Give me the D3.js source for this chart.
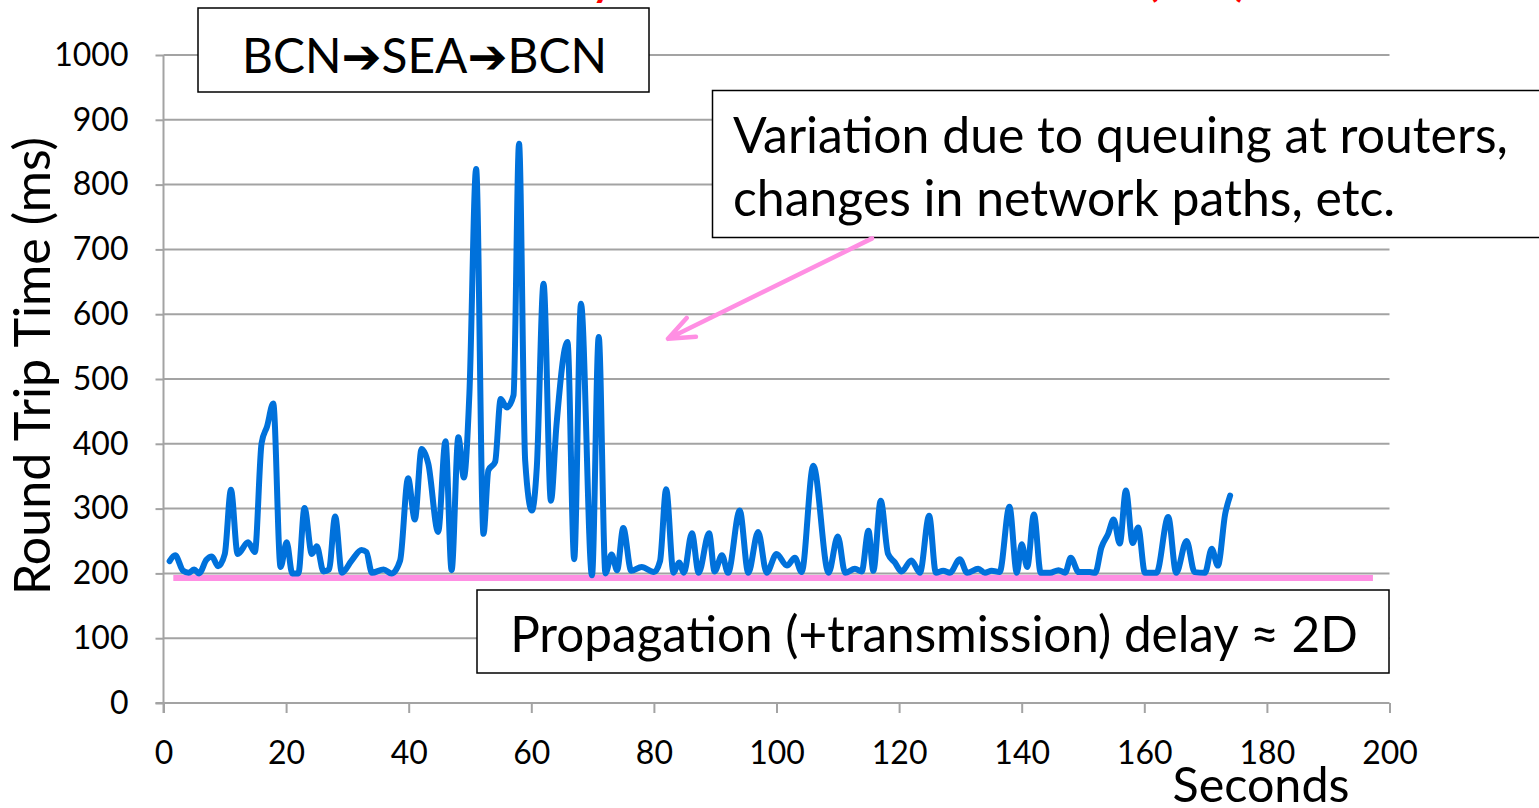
<!DOCTYPE html>
<html>
<head>
<meta charset="utf-8">
<script src="https://cdn.jsdelivr.net/npm/d3@7"></script>
<style>
  html, body { margin: 0; padding: 0; background: #fff; }
  svg { display: block; font-family: Lato, "Open Sans", "DejaVu Sans", sans-serif; }
</style>
</head>
<body>
<svg id="chart" width="1539" height="808"></svg>
<script>
// Ping samples: time (s) and round trip time (ms)
const seconds = [
  1.0, 1.9, 3.2, 4.1, 5.0, 5.8, 7.0, 7.9, 8.9, 10.0,
  11.0, 12.1, 13.8, 14.9, 16.0, 16.9, 17.9, 19.1, 20.1, 21.0,
  22.0, 23.0, 24.2, 25.0, 26.1, 27.0, 28.0, 29.1, 30.7, 32.3,
  33.1, 34.0, 35.9, 37.2, 38.6, 39.9, 41.0, 42.1, 43.2, 44.8,
  46.0, 47.0, 48.1, 49.0, 49.9, 51.0, 52.2, 53.0, 54.1, 55.0,
  56.0, 57.1, 58.0, 59.0, 60.1, 60.9, 62.0, 63.2, 64.1, 65.9,
  67.0, 68.1, 69.9, 71.0, 72.1, 73.1, 74.0, 75.0, 76.3, 78.0,
  80.0, 81.0, 82.0, 83.2, 84.1, 84.9, 86.2, 87.3, 89.0, 89.9,
  91.1, 92.1, 94.0, 95.4, 97.0, 98.4, 100.0, 101.7, 103.0, 104.1,
  106.0, 108.5, 110.0, 111.2, 112.8, 113.9, 115.0, 115.8, 117.0, 118.2,
  119.3, 120.4, 122.0, 123.4, 124.9, 126.0, 127.2, 128.3, 129.9, 131.1,
  132.9, 134.0, 135.1, 136.4, 138.0, 139.2, 140.0, 140.9, 142.0, 143.1,
  144.6, 146.0, 147.1, 148.0, 149.3, 151.1, 152.0, 153.0, 154.1, 155.0,
  156.0, 157.0, 158.1, 159.0, 160.1, 162.0, 163.9, 165.2, 166.9, 168.2,
  169.9, 171.0, 172.0, 173.2, 174.0
];
const rttMs = [
  219, 228, 204, 201, 206, 200, 221, 226, 211, 230,
  329, 230, 248, 233, 401, 427, 462, 210, 248, 200,
  200, 301, 230, 242, 203, 206, 288, 201, 220, 236,
  233, 201, 206, 200, 220, 347, 283, 392, 369, 264,
  404, 205, 410, 348, 477, 824, 261, 359, 372, 469,
  456, 475, 863, 374, 297, 364, 647, 312, 428, 557,
  222, 616, 197, 565, 200, 229, 205, 270, 204, 210,
  202, 219, 330, 201, 217, 201, 262, 201, 262, 203,
  228, 201, 297, 201, 264, 201, 230, 212, 224, 202,
  366, 201, 257, 201, 207, 203, 266, 204, 312, 230,
  217, 203, 220, 201, 289, 201, 204, 201, 222, 201,
  207, 201, 204, 202, 303, 201, 245, 210, 291, 201,
  201, 205, 201, 224, 202, 202, 201, 240, 261, 283,
  246, 328, 247, 271, 201, 201, 287, 201, 250, 202,
  201, 238, 212, 292, 320
];

// Propagation delay floor (ms) and the span it is drawn over (s)
const propagationMs = 193;
const propagationSpan = [1.6, 197.3];

// Axis ticks
const xTicks = [0, 20, 40, 60, 80, 100, 120, 140, 160, 180, 200];
const yTicks = [0, 100, 200, 300, 400, 500, 600, 700, 800, 900, 1000];

// Annotation arrow: tail and tip in data units (s, ms)
const arrowTail = [115.6, 717];
const arrowTip = [82.3, 562];

const svg = d3.select("#chart");

const x = d3.scaleLinear().domain([0, 200]).range([163.5, 1389.5]);
const y = d3.scaleLinear().domain([0, 1000]).range([703, 55]);

const GRID = "#a3a3a3";
const BLUE = "#0071db";
const PINK = "#ff8fe3";

// Fit a text element to a target width by adjusting its font size
function fitWidth(sel, target) {
  sel.each(function () {
    const fs = parseFloat(this.getAttribute("font-size"));
    const len = this.getComputedTextLength();
    if (len > 0) this.setAttribute("font-size", (fs * target / len).toFixed(2));
  });
  return sel;
}

// Heading along the top edge (runs off the top of the canvas)
const heading = svg.append("g").attr("fill", "#ff0000").attr("font-weight", "bold").attr("font-size", 42);
heading.append("text").attr("x", 614).attr("y", -4).attr("text-anchor", "end").text("Delay");
heading.append("text").attr("x", 880).attr("y", -4).attr("text-anchor", "middle").text("Variation");
heading.append("text").attr("x", 1147).attr("y", -4).text("(RTT)");

// Horizontal gridlines
svg.append("g")
  .selectAll("line")
  .data(yTicks.filter(d => d > 0))
  .join("line")
  .attr("x1", x(0)).attr("x2", x(200))
  .attr("y1", d => y(d)).attr("y2", d => y(d))
  .attr("stroke", GRID).attr("stroke-width", 2);

// Y axis
const yAxis = svg.append("g")
  .attr("transform", `translate(${x(0)},0)`)
  .call(d3.axisLeft(y).tickValues(yTicks).tickFormat(d3.format("d"))
    .tickSize(8).tickSizeOuter(0).tickPadding(27));
yAxis.select(".domain").attr("stroke", GRID).attr("stroke-width", 2)
  .attr("d", `M0,${y(1000)}V${y(0) + 10}`);
yAxis.selectAll(".tick line").attr("stroke", GRID).attr("stroke-width", 2);
yAxis.selectAll(".tick text")
  .attr("font-family", "Lato, sans-serif").attr("font-size", 32).attr("fill", "#000");

// X axis
const xAxis = svg.append("g")
  .attr("transform", `translate(0,${y(0)})`)
  .call(d3.axisBottom(x).tickValues(xTicks).tickFormat(d3.format("d"))
    .tickSize(10).tickSizeOuter(0).tickPadding(28));
xAxis.select(".domain").attr("stroke", GRID).attr("stroke-width", 2)
  .attr("d", `M${x(0) - 8},0H${x(200)}`);
xAxis.selectAll(".tick line").attr("stroke", GRID).attr("stroke-width", 2);
xAxis.selectAll(".tick text")
  .attr("font-family", "Lato, sans-serif").attr("font-size", 32).attr("fill", "#000");

// Propagation delay floor
svg.append("line")
  .attr("x1", x(propagationSpan[0])).attr("x2", x(propagationSpan[1]))
  .attr("y1", y(propagationMs)).attr("y2", y(propagationMs))
  .attr("stroke", PINK).attr("stroke-width", 6);

// RTT series
const pts = seconds.map((s, i) => [s, rttMs[i]]);
svg.append("path")
  .datum(pts)
  .attr("fill", "none")
  .attr("stroke", BLUE)
  .attr("stroke-width", 6)
  .attr("stroke-linejoin", "round")
  .attr("stroke-linecap", "round")
  .attr("d", d3.line().x(d => x(d[0])).y(d => y(d[1])).curve(d3.curveMonotoneX));

// Axis titles
fitWidth(svg.append("text")
  .attr("transform", "translate(50,366) rotate(-90)")
  .attr("text-anchor", "middle")
  .attr("font-size", 48)
  .text("Round Trip Time (ms)"), 458);

fitWidth(svg.append("text")
  .attr("x", 1261).attr("y", 802)
  .attr("text-anchor", "middle")
  .attr("font-size", 48)
  .text("Seconds"), 177);

// Route label box
svg.append("rect")
  .attr("x", 198).attr("y", 8).attr("width", 451).attr("height", 84)
  .attr("fill", "#fff").attr("stroke", "#000").attr("stroke-width", 1.5);
fitWidth(svg.append("text")
  .attr("x", 424.5).attr("y", 73)
  .attr("text-anchor", "middle")
  .attr("font-size", 48)
  .text("BCN\u2794SEA\u2794BCN"), 365);

// Variation note box
svg.append("rect")
  .attr("x", 712.5).attr("y", 90.5).attr("width", 840).attr("height", 147)
  .attr("fill", "#fff").attr("stroke", "#000").attr("stroke-width", 1.5);
const note1 = fitWidth(svg.append("text")
  .attr("x", 733).attr("y", 153)
  .attr("font-size", 44)
  .text("Variation due to queuing at routers,"), 775);
svg.append("text")
  .attr("x", 733).attr("y", 216)
  .attr("font-size", note1.attr("font-size"))
  .text("changes in network paths, etc.");

// Propagation note box
svg.append("rect")
  .attr("x", 477).attr("y", 590).attr("width", 912).attr("height", 83)
  .attr("fill", "#fff").attr("stroke", "#000").attr("stroke-width", 1.5);
fitWidth(svg.append("text")
  .attr("x", 934).attr("y", 652)
  .attr("text-anchor", "middle")
  .attr("font-size", 44)
  .text("Propagation (+transmission) delay \u2248 2D"), 848);

// Pointer from the variation note into the spikes
const tx = x(arrowTip[0]), ty = y(arrowTip[1]);
const fx = x(arrowTail[0]), fy = y(arrowTail[1]);
const ang = Math.atan2(fy - ty, fx - tx);
const headLen = 28, spread = 22 * Math.PI / 180;
const a1 = [tx + headLen * Math.cos(ang - spread), ty + headLen * Math.sin(ang - spread)];
const a2 = [tx + headLen * Math.cos(ang + spread), ty + headLen * Math.sin(ang + spread)];
svg.append("path")
  .attr("d", `M${fx},${fy}L${tx},${ty}M${a1[0]},${a1[1]}L${tx},${ty}L${a2[0]},${a2[1]}`)
  .attr("fill", "none").attr("stroke", PINK).attr("stroke-width", 4.5)
  .attr("stroke-linecap", "round").attr("stroke-linejoin", "round");
</script>
</body>
</html>
